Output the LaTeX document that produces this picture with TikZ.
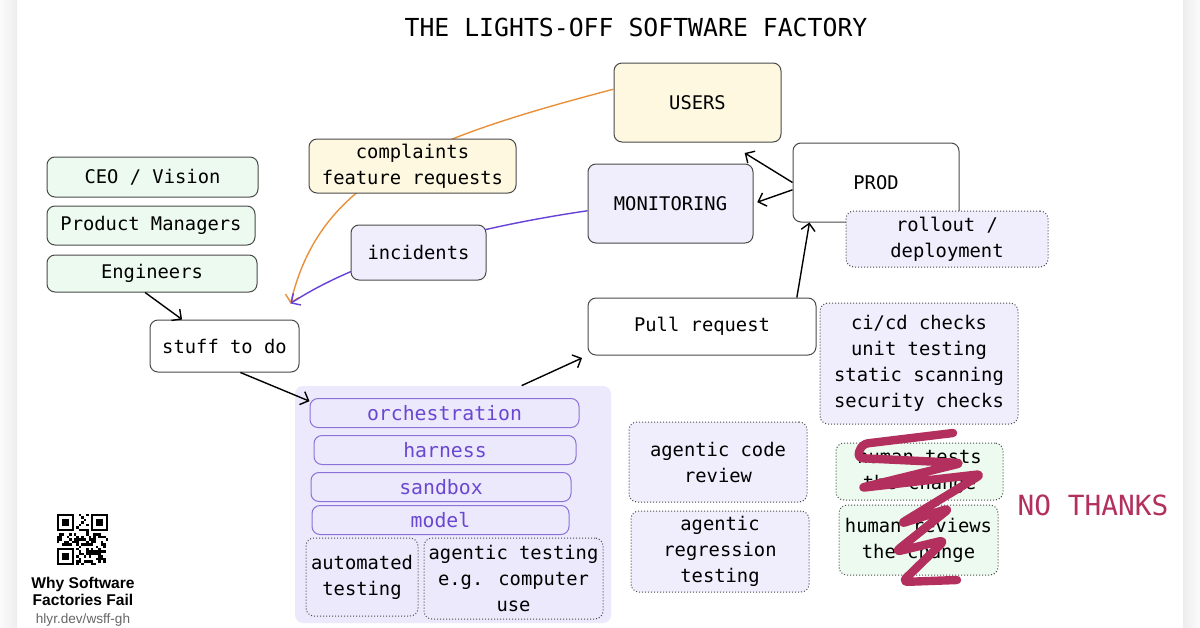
\documentclass[tikz,border=0pt]{standalone}
\usepackage{fontspec}
\setmainfont{DejaVu Sans Mono}
\newfontfamily\capfont{Liberation Sans}
\usetikzlibrary{arrows.meta}
\definecolor{paleyellow}{HTML}{FDF8DF}
\definecolor{palelav}{HTML}{F0EEFC}
\definecolor{palegreen}{HTML}{ECFAEF}
\definecolor{panelfill}{HTML}{EDE9FC}
\definecolor{layertext}{HTML}{6A47D0}
\definecolor{layerline}{HTML}{8C72D8}
\definecolor{boxline}{HTML}{4A4A4A}
\definecolor{complaintorange}{HTML}{E8913A}
\definecolor{incidentpurple}{HTML}{6741D9}
\definecolor{nope}{HTML}{B3305E}
\begin{document}
\begin{tikzpicture}[x=0.5pt, y=-0.5pt,
        >={Straight Barb[length=3.5pt,width=7pt]},
        txt/.style={font=\fontsize{9.4}{13}\selectfont, align=center, inner sep=0pt},
        box/.style={txt, draw=boxline, line width=0.5pt, rounded corners=4pt},
        dotbox/.style={box, dash pattern=on 0.5pt off 1pt},
        layer/.style={box, draw=layerline, text=layertext, minimum height=14.5pt,
            font=\fontsize{9.9}{12}\selectfont},
        link/.style={->, line width=0.7pt}]
        % page
            \useasboundingbox (0,0) rectangle (1200,627);
            \fill[white] (0,0) rectangle (1200,627);
            \shade[left color=gray!3, right color=gray!14] (0,0) rectangle (17,627);
            \shade[left color=gray!14, right color=gray!3] (1183,0) rectangle (1200,627);
            \node[font=\fontsize{12.4}{15}\selectfont] (title) at (636,27) {THE LIGHTS-OFF SOFTWARE FACTORY};
        % people
            \node[box, fill=palegreen, minimum width=105.5pt, minimum height=20pt] (ceo) at (152.5,177) {CEO / Vision};
            \node[box, fill=palegreen, minimum width=104pt, minimum height=19.5pt] (pm) at (151,225.5) {Product Managers};
            \node[box, fill=palegreen, minimum width=105pt, minimum height=18.5pt] (eng) at (152,273.5) {Engineers};
            \node[box, fill=white, minimum width=74.5pt, minimum height=26pt] (todo) at (224.5,346) {stuff to do};
        % agent stack
            \node[fill=panelfill, rounded corners=4pt, minimum width=158pt, minimum height=118.5pt] (panel) at (453,504.5) {};
            \foreach \n/\x/\y/\w in {orchestration/444.5/413/134.5pt, harness/445/450/131pt, sandbox/441/487/130pt, model/440.5/520/128.5pt}{
                \node[layer, minimum width=\w] (\n) at (\x,\y) {\n};
            }
            \node[dotbox, minimum width=56pt, minimum height=39pt] (autotest) at (362,577) {automated\\testing};
            \node[dotbox, minimum width=89.5pt, minimum height=40.5pt] (agtest) at (513.5,578.5) {agentic testing\\e.g. computer\\use};
        % reviews
            \node[dotbox, fill=palelav, minimum width=89pt, minimum height=40pt] (review) at (718,462) {agentic code\\review};
            \node[dotbox, fill=palelav, minimum width=89pt, minimum height=40.5pt] (regress) at (720,551.5) {agentic\\regression\\testing};
        % shipping
            \node[box, fill=white, minimum width=114pt, minimum height=28.5pt] (pr) at (702,326.5) {Pull request};
            \node[dotbox, fill=palelav, minimum width=99pt, minimum height=60.5pt] (checks) at (919,363.5) {ci/cd checks\\unit testing\\static scanning\\security checks};
            \node[box, fill=white, minimum width=83pt, minimum height=39.5pt] (prod) at (876,182.5) {PROD};
            \node[dotbox, fill=palelav, minimum width=101pt, minimum height=28pt] (rollout) at (947,239) {rollout /\\deployment};
            \node[box, fill=palelav, minimum width=82.5pt, minimum height=39.5pt] (monitor) at (670.5,203.5) {MONITORING};
            \node[box, fill=paleyellow, minimum width=83.5pt, minimum height=39.5pt] (users) at (697.5,102.5) {USERS};
        % feedback
            \coordinate (inbox) at ([shift={(-4.5pt,8pt)}]todo.north east);
            \draw[->, complaintorange, line width=0.7pt] (users.171) .. controls (420,140) and (320,180) .. (inbox);
            \draw[->, incidentpurple, line width=0.7pt] (monitor.185) .. controls (470,228) and (360,258) .. (inbox);
            \node[box, fill=paleyellow, minimum width=103.5pt, minimum height=27pt] (complaints) at (412.5,166) {complaints\\feature requests};
            \node[box, fill=palelav, minimum width=67.5pt, minimum height=27.5pt] (incidents) at (418.5,252.5) {incidents};
        % flow
            \draw[link] (eng.250) -- (todo.148);
            \draw[link] (todo.-59) -- (orchestration.175);
            \draw[link, shorten >=3pt] (panel.60) -- (pr.south west);
            \draw[link] (pr.17) -- (prod.211);
            \draw[link, shorten >=10pt] (prod.west) -- (users.-53);
            \draw[link, shorten >=2pt] (prod.185) -- (monitor.east);
        % humans, crossed out
            \node[dotbox, fill=palegreen, minimum width=83.5pt, minimum height=28.5pt] (htests) at (919.5,471.5) {human tests\\the change};
            \node[dotbox, fill=palegreen, minimum width=79.5pt, minimum height=35pt] (hreview) at (918.5,540) {human reviews\\the change};
            \draw[nope, line width=4.2pt, line cap=round, line join=round, rounded corners=3pt]
                (953,433) -- (862,444) -- (857,458) -- (962,463) -- (860,488) -- (982,474) -- (900,524)
                -- (950,508) -- (895,552) -- (945,540) -- (902,582) -- (957,580);
            \node[text=nope, font=\fontsize{13.9}{16}\selectfont] (nothanks) at (1093,505) {NO THANKS};
        % qr code
            \begin{scope}[shift={(57,514)}]
                \pgfmathsetseed{11}
                \foreach \i in {0,...,20}{
                    \foreach \j in {0,...,20}{
                        \pgfmathrandominteger{\bit}{0}{1}
                        \ifnum\bit=1 \fill (\i*2.43,\j*2.43) rectangle ++(2.43,2.43); \fi
                    }
                }
                \foreach \cx/\cy/\sx/\sy in {0/0/0/0, 14/0/13/0, 0/14/0/13}{
                    \fill[white] (\sx*2.43,\sy*2.43) rectangle ++(8*2.43,8*2.43);
                    \fill (\cx*2.43,\cy*2.43) rectangle ++(7*2.43,7*2.43);
                    \fill[white] (\cx*2.43+2.43,\cy*2.43+2.43) rectangle ++(5*2.43,5*2.43);
                    \fill (\cx*2.43+2*2.43,\cy*2.43+2*2.43) rectangle ++(3*2.43,3*2.43);
                }
            \end{scope}
            \node[font=\capfont\bfseries\fontsize{7.8}{8.5}\selectfont, align=center, inner sep=0pt] (qrtitle) at (83,591.5) {Why Software\\Factories Fail};
            \node[font=\capfont\fontsize{6.8}{8}\selectfont, text=gray!80!black, inner sep=0pt] (qrlink) at (83,620) {hlyr.dev/wsff-gh};
        \end{tikzpicture}
\end{document}
